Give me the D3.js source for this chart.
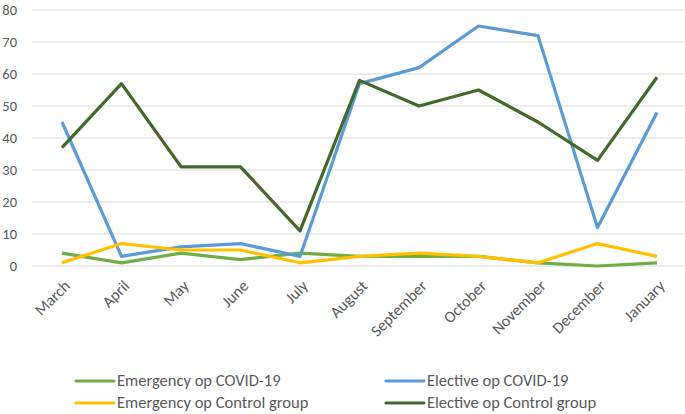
<!DOCTYPE html>
<html>
<head>
<meta charset="utf-8">
<script src="https://cdn.jsdelivr.net/npm/d3@7"></script>
<style>
  body { margin: 0; background: #fff; }
  text { font-family: Calibri, Carlito, Lato, "Liberation Sans", Arial, sans-serif; fill: #595959; }
</style>
</head>
<body>
<div id="chart"></div>
<script>
// 数据
const months = ["March", "April", "May", "June", "July", "August", "September", "October", "November", "December", "January"];
const emergencyCovid = [4, 1, 4, 2, 4, 3, 3, 3, 1, 0, 1];
const electiveCovid = [45, 3, 6, 7, 3, 57, 62, 75, 72, 12, 48];
const emergencyControl = [1, 7, 5, 5, 1, 3, 4, 3, 1, 7, 3];
const electiveControl = [37, 57, 31, 31, 11, 58, 50, 55, 45, 33, 59];
const yTicks = [0, 10, 20, 30, 40, 50, 60, 70, 80];

const series = [
  { name: "Emergency op COVID-19", values: emergencyCovid, color: "#70AD47" },
  { name: "Elective op COVID-19", values: electiveCovid, color: "#5B9BD5" },
  { name: "Emergency op Control group", values: emergencyControl, color: "#FFC000" },
  { name: "Elective op Control group", values: electiveControl, color: "#43682B" }
];

const width = 685, height = 414;
const svg = d3.select("#chart").append("svg")
  .attr("width", width)
  .attr("height", height);

const x = d3.scalePoint()
  .domain(months)
  .range([62, 657]);

const y = d3.scaleLinear()
  .domain([0, 80])
  .range([266, 10]);

// 网格线
svg.append("g")
  .selectAll("line")
  .data(yTicks)
  .enter().append("line")
  .attr("x1", 32)
  .attr("x2", 685)
  .attr("y1", d => y(d))
  .attr("y2", d => y(d))
  .style("stroke", "#d9d9d9")
  .style("stroke-width", 1);

// y 轴标签
svg.append("g")
  .selectAll("text")
  .data(yTicks)
  .enter().append("text")
  .attr("x", 17)
  .attr("y", d => y(d))
  .attr("dy", "0.35em")
  .attr("text-anchor", "end")
  .style("font-size", "14.5px")
  .text(d => d);

// x 轴标签（旋转45度）
svg.append("g")
  .selectAll("text")
  .data(months)
  .enter().append("text")
  .attr("transform", d => `translate(${x(d) + 1},${279}) rotate(-45)`)
  .attr("text-anchor", "end")
  .attr("dy", "0.7em")
  .style("font-size", "16px")
  .text(d => d);

// 折线
const line = d3.line()
  .x((d, i) => x(months[i]))
  .y(d => y(d));

svg.append("g")
  .selectAll("path")
  .data(series)
  .enter().append("path")
  .attr("d", d => line(d.values))
  .style("fill", "none")
  .style("stroke", d => d.color)
  .style("stroke-width", 3.2)
  .style("stroke-linejoin", "round");

// 图例
const legend = svg.append("g")
  .selectAll("g")
  .data(series)
  .enter().append("g")
  .attr("transform", (d, i) => `translate(${i % 2 === 0 ? 76 : 386},${i < 2 ? 381 : 403})`);

legend.append("line")
  .attr("x1", 0)
  .attr("x2", 38)
  .style("stroke", d => d.color)
  .style("stroke-width", 3.2)
  .style("stroke-linecap", "round");

legend.append("text")
  .attr("x", 41)
  .attr("dy", "0.32em")
  .style("font-size", "16.5px")
  .text(d => d.name);
</script>
</body>
</html>
